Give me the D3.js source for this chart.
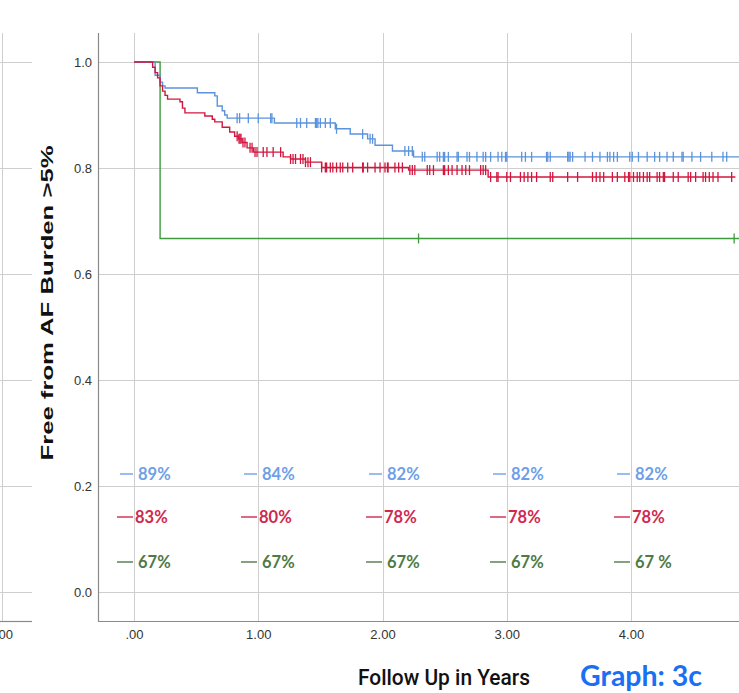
<!DOCTYPE html>
<html>
<head>
<meta charset="utf-8">
<script src="https://cdn.jsdelivr.net/npm/d3@7"></script>
<style>
html,body{margin:0;padding:0;background:#fff;}
svg{display:block;}
</style>
</head>
<body>
<svg id="chart" width="739" height="693"></svg>
<script>
// ---------- DATA ----------
const xTickValues = [0, 1, 2, 3, 4];
const xTickLabels = [".00", "1.00", "2.00", "3.00", "4.00"];
const yTickValues = [0, 0.2, 0.4, 0.6, 0.8, 1.0];
const yTickLabels = ["0.0", "0.2", "0.4", "0.6", "0.8", "1.0"];

// Kaplan-Meier step changes: [time in years, survival after step]
const blueSteps = [[0.17,0.975],[0.21,0.962],[0.23,0.955],[0.25,0.951],[0.51,0.942],[0.65,0.936],[0.67,0.917],[0.71,0.908],[0.73,0.900],[0.75,0.894],[1.13,0.885],[1.62,0.874],[1.74,0.864],[1.88,0.855],[1.94,0.843],[2.08,0.832],[2.25,0.821]];
const redSteps = [[0.15,0.99],[0.17,0.98],[0.19,0.97],[0.21,0.955],[0.23,0.945],[0.25,0.937],[0.27,0.93],[0.37,0.925],[0.39,0.913],[0.41,0.904],[0.57,0.898],[0.63,0.892],[0.65,0.887],[0.71,0.877],[0.77,0.868],[0.81,0.86],[0.84,0.855],[0.87,0.848],[0.91,0.838],[0.96,0.830],[1.20,0.821],[1.26,0.817],[1.38,0.811],[1.51,0.801],[2.21,0.796],[2.85,0.783]];
const greenSteps = [[0.21,0.667]];
const blueEnd = 4.9, redEnd = 4.84, greenEnd = 4.9;

// censored observations (years)
const blueCensors = [0.83,0.85,0.92,1.00,1.10,1.11,1.31,1.34,1.39,1.46,1.47,1.48,1.50,1.54,1.58,1.63,1.84,1.90,1.92,2.18,2.21,2.24,2.32,2.34,2.44,2.46,2.49,2.50,2.53,2.60,2.61,2.68,2.70,2.76,2.81,2.83,2.87,2.93,2.96,2.99,3.00,3.12,3.15,3.20,3.32,3.33,3.35,3.49,3.50,3.51,3.53,3.63,3.69,3.75,3.81,3.83,3.86,3.89,3.99,4.01,4.06,4.13,4.19,4.23,4.29,4.34,4.41,4.42,4.49,4.56,4.65,4.74,4.77];
const redCensors = [0.83,0.845,0.853,0.861,0.877,0.893,0.934,0.95,0.974,0.99,1.04,1.07,1.12,1.18,1.26,1.28,1.30,1.34,1.36,1.38,1.40,1.42,1.51,1.54,1.55,1.58,1.60,1.63,1.66,1.68,1.72,1.76,1.84,1.845,1.88,1.94,1.98,2.02,2.04,2.045,2.10,2.13,2.16,2.22,2.24,2.26,2.36,2.38,2.41,2.49,2.50,2.53,2.56,2.60,2.64,2.67,2.70,2.79,2.81,2.83,2.87,2.92,2.93,3.00,3.03,3.11,3.14,3.17,3.20,3.24,3.35,3.37,3.49,3.57,3.69,3.72,3.75,3.78,3.85,3.89,3.95,3.98,3.99,4.02,4.05,4.07,4.10,4.13,4.15,4.21,4.23,4.26,4.27,4.34,4.38,4.46,4.48,4.52,4.58,4.60,4.63,4.66,4.70,4.81];
const greenCensors = [2.29, 4.83];

// at-time annotation labels (times 0..4)
const labelTimes = [0, 1, 2, 3, 4];
const blueLabels = ["89%", "84%", "82%", "82%", "82%"];
const redLabels = ["83%", "80%", "78%", "78%", "78%"];
const greenLabels = ["67%", "67%", "67%", "67%", "67 %"];

// ---------- DRAW ----------
const svg = d3.select("#chart");
const mLeft = 98, mTop = 33, mBottom = 621, mRight = 739;

const x = d3.scaleLinear().domain([-0.2897, 4.869]).range([mLeft, mRight]);
const y = d3.scaleLinear().domain([-0.0547, 1.0547]).range([mBottom, mTop]);

const gridColor = "#cfcfcf";
const axisColor = "#8a8a8a";
const blueC = "#5b93dc", redC = "#d2173f", greenC = "#3f9a3f";
const blueTxt = "#6f9fe8", redTxt = "#d0294f", greenTxt = "#4e7a45";

// left partial neighbour panel
const lp = svg.append("g");
yTickValues.forEach(v => {
  lp.append("line").attr("x1", 0).attr("x2", 32).attr("y1", Math.round(y(v)) + 0.5).attr("y2", Math.round(y(v)) + 0.5)
    .attr("stroke", gridColor).attr("stroke-width", 1);
});
lp.append("line").attr("x1", 2.5).attr("x2", 2.5).attr("y1", mTop).attr("y2", mBottom)
  .attr("stroke", gridColor).attr("stroke-width", 1);
lp.append("line").attr("x1", 0).attr("x2", 32).attr("y1", mBottom + 0.5).attr("y2", mBottom + 0.5)
  .attr("stroke", axisColor).attr("stroke-width", 1.2);
lp.append("text").attr("x", 4).attr("y", 639).attr("text-anchor", "middle")
  .attr("font-family", "Liberation Sans, Arial, sans-serif").attr("font-size", 13).attr("fill", "#333")
  .text(xTickLabels[0]);

// grid
const grid = svg.append("g");
yTickValues.forEach(v => {
  grid.append("line").attr("x1", mLeft).attr("x2", mRight).attr("y1", Math.round(y(v)) + 0.5).attr("y2", Math.round(y(v)) + 0.5)
    .attr("stroke", gridColor).attr("stroke-width", 1);
});
xTickValues.forEach(v => {
  grid.append("line").attr("x1", Math.round(x(v)) + 0.5).attr("x2", Math.round(x(v)) + 0.5).attr("y1", mTop).attr("y2", mBottom)
    .attr("stroke", gridColor).attr("stroke-width", 1);
});

// axes
const yAxis = d3.axisLeft(y).tickValues(yTickValues).tickSize(0).tickPadding(6)
  .tickFormat((d, i) => yTickLabels[i]);
const gy = svg.append("g").attr("transform", `translate(${mLeft},0)`).call(yAxis);
gy.select(".domain").attr("stroke", axisColor).attr("stroke-width", 1.2).attr("d", `M0.5,${mTop}V${mBottom}`);
gy.selectAll("text").attr("font-family", "Liberation Sans, Arial, sans-serif").attr("font-size", 13).attr("fill", "#333");

const xAxis = d3.axisBottom(x).tickValues(xTickValues).tickSize(0).tickPadding(9)
  .tickFormat((d, i) => xTickLabels[i]);
const gx = svg.append("g").attr("transform", `translate(0,${mBottom})`).call(xAxis);
gx.select(".domain").attr("stroke", axisColor).attr("stroke-width", 1.2).attr("d", `M${mLeft},0.5H${mRight}`);
gx.selectAll("text").attr("font-family", "Liberation Sans, Arial, sans-serif").attr("font-size", 13).attr("fill", "#333");

// curves
svg.append("defs").append("clipPath").attr("id", "clip")
  .append("rect").attr("x", mLeft).attr("y", mTop).attr("width", mRight - mLeft).attr("height", mBottom - mTop);
const plot = svg.append("g").attr("clip-path", "url(#clip)");

const stepLine = d3.line().x(d => x(d[0])).y(d => y(d[1])).curve(d3.curveStepAfter);
function survAt(steps, t) {
  let s = 1;
  for (const st of steps) { if (st[0] <= t) s = st[1]; }
  return s;
}
function drawSeries(steps, end, censors, color) {
  const pts = [[0, 1], ...steps];
  pts.push([end, steps[steps.length - 1][1]]);
  plot.append("path").attr("d", stepLine(pts)).attr("fill", "none")
    .attr("stroke", color).attr("stroke-width", 1.4);
  plot.selectAll(null).data(censors).enter().append("line")
    .attr("x1", d => x(d)).attr("x2", d => x(d))
    .attr("y1", d => y(survAt(steps, d)) - 5).attr("y2", d => y(survAt(steps, d)) + 5)
    .attr("stroke", color).attr("stroke-width", 1.3);
}
drawSeries(greenSteps, greenEnd, greenCensors, greenC);
drawSeries(blueSteps, blueEnd, blueCensors, blueC);
drawSeries(redSteps, redEnd, redCensors, redC);

// annotations
const ann = svg.append("g").attr("font-family", "Lato, 'Open Sans', sans-serif").attr("font-weight", 700).attr("font-size", 16.5);
function drawLabels(labels, color, rowY, dash) {
  labels.forEach((lab, i) => {
    const gxp = Math.round(x(labelTimes[i]));
    ann.append("line").attr("x1", gxp - dash[0]).attr("x2", gxp - 1).attr("y1", rowY).attr("y2", rowY)
      .attr("stroke", color).attr("stroke-width", 1.4);
    ann.append("text").attr("x", gxp + dash[1]).attr("y", rowY + 6).attr("fill", color).text(lab);
  });
}
drawLabels(blueLabels, blueTxt, 474, [14, 4]);
drawLabels(redLabels, redTxt, 517, [17, 1]);
drawLabels(greenLabels, greenTxt, 562, [17, 4]);

// titles
svg.append("text").attr("transform", "translate(53,303) rotate(-90)").attr("text-anchor", "middle")
  .attr("font-family", "Liberation Sans, Arial, sans-serif").attr("font-weight", 700).attr("font-size", 17)
  .attr("textLength", 315).attr("lengthAdjust", "spacingAndGlyphs").attr("fill", "#111")
  .text("Free from AF Burden >5%");
svg.append("text").attr("x", 358).attr("y", 684.5)
  .attr("font-family", "Roboto, 'Liberation Sans', sans-serif").attr("font-weight", 500).attr("font-size", 22)
  .attr("textLength", 172).attr("lengthAdjust", "spacingAndGlyphs").attr("fill", "#111")
  .text("Follow Up in Years");
svg.append("text").attr("x", 580).attr("y", 686)
  .attr("font-family", "Lato, 'Open Sans', sans-serif").attr("font-weight", 700).attr("font-size", 29)
  .attr("textLength", 122).attr("lengthAdjust", "spacingAndGlyphs").attr("fill", "#1b6ff2")
  .text("Graph: 3c");
</script>
</body>
</html>
